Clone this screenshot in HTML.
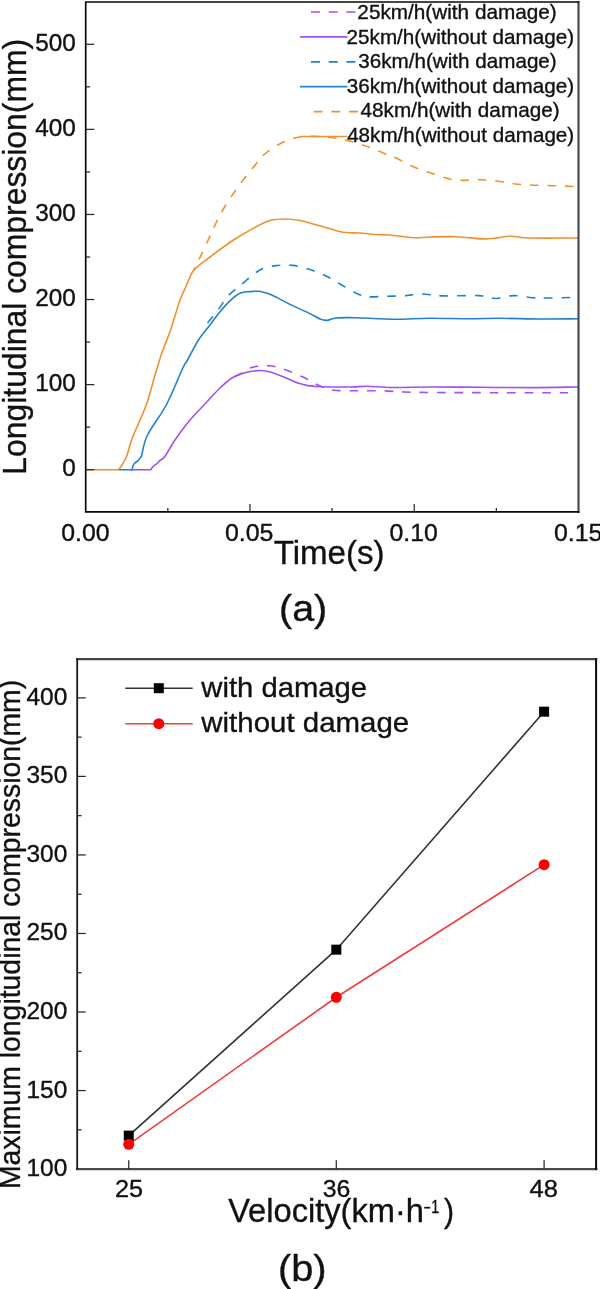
<!DOCTYPE html>
<html><head><meta charset="utf-8"><title>Longitudinal compression</title>
<style>
html,body{margin:0;padding:0;background:#fff;}
body{width:600px;height:1289px;overflow:hidden;font-family:"Liberation Sans",sans-serif;}
svg{display:block;will-change:transform;}
</style></head><body>
<svg width="600" height="1289" viewBox="0 0 600 1289">
<rect width="600" height="1289" fill="#fff"/>
<g id="chart-a">
<path d="M131.00,469.70 L150.80,469.70 L150.80,469.70 C151.22,469.12 152.32,467.24 153.30,466.25 C154.28,465.26 155.58,464.73 156.70,463.75 C157.82,462.77 158.62,461.65 160.00,460.40 C161.38,459.15 162.50,459.65 165.00,456.25 C167.50,452.85 170.83,446.04 175.00,440.00 C179.17,433.96 184.58,426.46 190.00,420.00 C195.42,413.54 202.50,406.58 207.50,401.25 C212.50,395.92 215.92,391.88 220.00,388.00 C224.08,384.12 228.00,380.50 232.00,378.00 C236.00,375.50 239.67,374.23 244.00,373.00 C248.33,371.77 253.67,370.77 258.00,370.60 C262.33,370.43 265.67,370.93 270.00,372.00 C274.33,373.07 279.33,375.17 284.00,377.00 C288.67,378.83 294.00,381.57 298.00,383.00 C302.00,384.43 303.92,384.98 308.00,385.60 C312.08,386.23 315.50,386.52 322.50,386.75 C329.50,386.98 342.50,387.08 350.00,387.00 C357.50,386.92 360.42,386.17 367.50,386.25 C374.58,386.33 382.08,387.38 392.50,387.50 C402.92,387.62 415.42,387.03 430.00,387.00 C444.58,386.97 463.33,387.20 480.00,387.30 C496.67,387.40 513.67,387.65 530.00,387.60 C546.33,387.55 570.00,387.10 578.00,387.00" fill="none" stroke="#A54FF0" stroke-width="1.6" stroke-linejoin="round"/>
<path d="M232.00,378.00 C233.33,377.33 237.00,375.67 240.00,374.00 C243.00,372.33 246.67,369.33 250.00,368.00 C253.33,366.67 256.33,366.33 260.00,366.00 C263.67,365.67 267.67,365.33 272.00,366.00 C276.33,366.67 280.67,368.08 286.00,370.00 C291.33,371.92 298.67,375.00 304.00,377.50 C309.33,380.00 313.25,382.92 318.00,385.00 C322.75,387.08 326.33,389.04 332.50,390.00 C338.67,390.96 347.08,390.62 355.00,390.75 C362.92,390.88 371.67,390.54 380.00,390.75 C388.33,390.96 396.67,391.71 405.00,392.00 C413.33,392.29 414.17,392.38 430.00,392.50 C445.83,392.62 477.00,392.67 500.00,392.70 C523.00,392.73 556.67,392.70 568.00,392.70" fill="none" stroke="#A54FF0" stroke-width="1.6" stroke-linejoin="round" stroke-dasharray="8.6 8.9" stroke-dashoffset="14.6"/>
<path d="M118.00,469.70 L132.10,469.70 L132.10,469.70 C132.28,468.95 132.72,466.33 133.20,465.20 C133.68,464.07 134.15,463.70 135.00,462.90 C135.85,462.10 137.40,461.30 138.30,460.40 C139.20,459.50 139.83,458.40 140.40,457.50 C140.97,456.60 140.52,458.75 141.70,455.00 C142.88,451.25 143.41,443.33 147.50,435.00 C151.59,426.67 160.42,416.04 166.25,405.00 C172.08,393.96 178.96,376.25 182.50,368.75 C186.04,361.25 184.83,364.79 187.50,360.00 C190.17,355.21 194.75,345.83 198.50,340.00 C202.25,334.17 206.42,329.72 210.00,325.00 C213.58,320.28 216.67,315.73 220.00,311.70 C223.33,307.67 226.67,303.87 230.00,300.80 C233.33,297.73 236.67,294.83 240.00,293.30 C243.33,291.77 246.83,291.93 250.00,291.60 C253.17,291.27 256.00,290.97 259.00,291.30 C262.00,291.63 265.17,292.65 268.00,293.60 C270.83,294.55 272.33,295.20 276.00,297.00 C279.67,298.80 284.33,301.63 290.00,304.40 C295.67,307.17 305.00,311.17 310.00,313.60 C315.00,316.03 317.17,317.87 320.00,319.00 C322.83,320.13 324.33,320.57 327.00,320.40 C329.67,320.23 331.33,318.45 336.00,318.00 C340.67,317.55 347.67,317.57 355.00,317.70 C362.33,317.82 372.50,318.49 380.00,318.75 C387.50,319.01 391.67,319.33 400.00,319.25 C408.33,319.17 418.33,318.32 430.00,318.25 C441.67,318.18 458.33,318.79 470.00,318.80 C481.67,318.81 488.33,318.27 500.00,318.30 C511.67,318.33 527.00,318.92 540.00,319.00 C553.00,319.08 571.67,318.83 578.00,318.80" fill="none" stroke="#2082D0" stroke-width="1.6" stroke-linejoin="round"/>
<path d="M203.00,330.00 C203.50,329.17 203.58,328.20 206.00,325.00 C208.42,321.80 213.78,315.67 217.50,310.80 C221.22,305.93 224.27,300.23 228.30,295.80 C232.33,291.37 237.42,287.83 241.70,284.20 C245.98,280.57 250.62,276.53 254.00,274.00 C257.38,271.47 258.33,270.40 262.00,269.00 C265.67,267.60 270.83,266.20 276.00,265.60 C281.17,265.00 287.33,264.73 293.00,265.40 C298.67,266.07 304.50,267.83 310.00,269.60 C315.50,271.37 321.00,273.60 326.00,276.00 C331.00,278.40 335.00,281.17 340.00,284.00 C345.00,286.83 351.42,290.88 356.00,293.00 C360.58,295.12 362.67,296.21 367.50,296.75 C372.33,297.29 378.75,296.42 385.00,296.25 C391.25,296.08 399.17,296.12 405.00,295.75 C410.83,295.38 413.50,293.98 420.00,294.00 C426.50,294.02 434.22,295.63 444.00,295.90 C453.78,296.17 470.03,295.17 478.70,295.60 C487.37,296.03 490.23,298.50 496.00,298.50 C501.77,298.50 507.30,295.73 513.30,295.60 C519.30,295.47 526.22,297.30 532.00,297.70 C537.78,298.10 541.55,298.03 548.00,298.00 C554.45,297.97 566.92,297.58 570.70,297.50" fill="none" stroke="#2082D0" stroke-width="1.6" stroke-linejoin="round" stroke-dasharray="8.6 8.9" stroke-dashoffset="9.0"/>
<path d="M85.70,469.70 L118.40,469.70 L118.40,469.70 C118.73,469.32 119.72,468.32 120.40,467.40 C121.08,466.48 121.73,465.52 122.50,464.20 C123.27,462.88 124.23,461.03 125.00,459.50 C125.77,457.97 125.85,458.67 127.10,455.00 C128.35,451.33 129.31,445.83 132.50,437.50 C135.69,429.17 142.50,415.42 146.25,405.00 C150.00,394.58 152.38,383.75 155.00,375.00 C157.62,366.25 159.50,359.72 162.00,352.50 C164.50,345.28 167.83,337.78 170.00,331.70 C172.17,325.62 173.33,321.28 175.00,316.00 C176.67,310.72 178.05,305.17 180.00,300.00 C181.95,294.83 184.45,289.92 186.70,285.00 C188.95,280.08 189.62,275.17 193.50,270.50 C197.38,265.83 203.08,262.25 210.00,257.00 C216.92,251.75 227.08,244.17 235.00,239.00 C242.92,233.83 251.67,229.08 257.50,226.00 C263.33,222.92 265.42,221.67 270.00,220.50 C274.58,219.33 280.00,219.00 285.00,219.00 C290.00,219.00 295.00,219.58 300.00,220.50 C305.00,221.42 310.00,223.12 315.00,224.50 C320.00,225.88 325.00,227.42 330.00,228.75 C335.00,230.08 340.00,231.79 345.00,232.50 C350.00,233.21 355.00,232.67 360.00,233.00 C365.00,233.33 370.00,234.17 375.00,234.50 C380.00,234.83 383.62,234.47 390.00,235.00 C396.38,235.53 406.63,237.37 413.30,237.70 C419.97,238.03 422.77,237.17 430.00,237.00 C437.23,236.83 447.25,236.37 456.70,236.70 C466.15,237.03 477.82,239.07 486.70,239.00 C495.58,238.93 502.78,236.47 510.00,236.30 C517.22,236.13 518.67,237.72 530.00,238.00 C541.33,238.28 570.00,238.00 578.00,238.00" fill="none" stroke="#F29030" stroke-width="1.6" stroke-linejoin="round"/>
<path d="M193.50,270.50 C194.58,268.33 197.46,262.79 200.00,257.50 C202.54,252.21 206.04,244.58 208.75,238.75 C211.46,232.92 213.54,227.92 216.25,222.50 C218.96,217.08 221.88,211.46 225.00,206.25 C228.12,201.04 231.67,196.04 235.00,191.25 C238.33,186.46 241.46,182.08 245.00,177.50 C248.54,172.92 252.92,167.71 256.25,163.75 C259.58,159.79 261.04,157.08 265.00,153.75 C268.96,150.42 275.00,146.38 280.00,143.75 C285.00,141.12 290.00,139.25 295.00,138.00 C300.00,136.75 305.00,136.42 310.00,136.25 C315.00,136.08 320.00,136.58 325.00,137.00 C330.00,137.42 335.00,137.83 340.00,138.75 C345.00,139.67 350.00,141.04 355.00,142.50 C360.00,143.96 365.00,145.62 370.00,147.50 C375.00,149.38 380.55,151.95 385.00,153.75 C389.45,155.55 391.98,156.14 396.70,158.30 C401.42,160.46 407.75,164.30 413.30,166.70 C418.85,169.10 424.43,170.77 430.00,172.70 C435.57,174.63 441.70,177.03 446.70,178.30 C451.70,179.57 454.45,180.07 460.00,180.30 C465.55,180.53 473.88,179.58 480.00,179.70 C486.12,179.82 491.15,180.33 496.70,181.00 C502.25,181.67 507.75,183.03 513.30,183.70 C518.85,184.37 523.33,184.67 530.00,185.00 C536.67,185.33 545.30,185.42 553.30,185.70 C561.30,185.98 573.88,186.53 578.00,186.70" fill="none" stroke="#F29030" stroke-width="1.6" stroke-linejoin="round" stroke-dasharray="8.6 8.9" stroke-dashoffset="5.1"/>
<path d="M578.5,2.0 V511.95" fill="none" stroke="#4a4a4a" stroke-width="2.2" stroke-linecap="square"/>
<path d="M578.5,2.0 H85.7 V511.95 H578.5" fill="none" stroke="#0a0a0a" stroke-width="1.7" stroke-linecap="square" stroke-linejoin="miter"/>
<path d="M85.7,469.70 h8.6" stroke="#2a2a2a" stroke-width="1.25"/>
<text transform="translate(62.30,476.30) scale(1.0450,1)" font-family="Liberation Sans, sans-serif" stroke="#111" stroke-width="0.35" stroke-linejoin="round" font-size="23.3" fill="#111">0</text>
<path d="M85.7,384.62 h8.6" stroke="#2a2a2a" stroke-width="1.25"/>
<text transform="translate(35.21,391.22) scale(1.0450,1)" font-family="Liberation Sans, sans-serif" stroke="#111" stroke-width="0.35" stroke-linejoin="round" font-size="23.3" fill="#111">100</text>
<path d="M85.7,299.54 h8.6" stroke="#2a2a2a" stroke-width="1.25"/>
<text transform="translate(35.21,306.14) scale(1.0450,1)" font-family="Liberation Sans, sans-serif" stroke="#111" stroke-width="0.35" stroke-linejoin="round" font-size="23.3" fill="#111">200</text>
<path d="M85.7,214.46 h8.6" stroke="#2a2a2a" stroke-width="1.25"/>
<text transform="translate(35.21,221.06) scale(1.0450,1)" font-family="Liberation Sans, sans-serif" stroke="#111" stroke-width="0.35" stroke-linejoin="round" font-size="23.3" fill="#111">300</text>
<path d="M85.7,129.38 h8.6" stroke="#2a2a2a" stroke-width="1.25"/>
<text transform="translate(35.21,135.98) scale(1.0450,1)" font-family="Liberation Sans, sans-serif" stroke="#111" stroke-width="0.35" stroke-linejoin="round" font-size="23.3" fill="#111">400</text>
<path d="M85.7,44.30 h8.6" stroke="#2a2a2a" stroke-width="1.25"/>
<text transform="translate(35.21,50.90) scale(1.0450,1)" font-family="Liberation Sans, sans-serif" stroke="#111" stroke-width="0.35" stroke-linejoin="round" font-size="23.3" fill="#111">500</text>
<path d="M85.7,427.16 h4.4" stroke="#2a2a2a" stroke-width="1.25"/>
<path d="M85.7,342.08 h4.4" stroke="#2a2a2a" stroke-width="1.25"/>
<path d="M85.7,257.00 h4.4" stroke="#2a2a2a" stroke-width="1.25"/>
<path d="M85.7,171.92 h4.4" stroke="#2a2a2a" stroke-width="1.25"/>
<path d="M85.7,86.84 h4.4" stroke="#2a2a2a" stroke-width="1.25"/>
<path d="M167.83,511.95 v-4" stroke="#2a2a2a" stroke-width="1.25"/>
<path d="M249.97,511.95 v-8" stroke="#2a2a2a" stroke-width="1.25"/>
<path d="M332.10,511.95 v-4" stroke="#2a2a2a" stroke-width="1.25"/>
<path d="M414.23,511.95 v-8" stroke="#2a2a2a" stroke-width="1.25"/>
<path d="M496.37,511.95 v-4" stroke="#2a2a2a" stroke-width="1.25"/>
<text transform="translate(61.20,540.90) scale(1.0687,1)" font-family="Liberation Sans, sans-serif" stroke="#111" stroke-width="0.35" stroke-linejoin="round" font-size="23.3" fill="#111">0.00</text>
<text transform="translate(224.90,540.90) scale(1.0701,1)" font-family="Liberation Sans, sans-serif" stroke="#111" stroke-width="0.35" stroke-linejoin="round" font-size="23.3" fill="#111">0.05</text>
<text transform="translate(389.50,540.90) scale(1.0687,1)" font-family="Liberation Sans, sans-serif" stroke="#111" stroke-width="0.35" stroke-linejoin="round" font-size="23.3" fill="#111">0.10</text>
<text transform="translate(553.90,540.90) scale(1.0701,1)" font-family="Liberation Sans, sans-serif" stroke="#111" stroke-width="0.35" stroke-linejoin="round" font-size="23.3" fill="#111">0.15</text>
<text transform="translate(273.76,563.90) scale(1.0016,1)" font-family="Liberation Sans, sans-serif" stroke="#111" stroke-width="0.35" stroke-linejoin="round" font-size="33" fill="#111">Time(s)</text>
<text transform="translate(279.03,620.80) scale(1.0809,1)" font-family="Liberation Sans, sans-serif" stroke="#111" stroke-width="0.35" stroke-linejoin="round" font-size="36.5" fill="#111">(a)</text>
<text transform="translate(26.20,474.63) rotate(-90) scale(0.9660,1)" font-family="Liberation Sans, sans-serif" stroke="#111" stroke-width="0.35" stroke-linejoin="round" font-size="33" fill="#111">Longitudinal compression(mm)</text>
<path d="M311,12.00 h44.6" stroke="#A54FF0" stroke-width="1.7" stroke-dasharray="9 8.7"/>
<text transform="translate(357.36,19.00) scale(1.0478,1)" font-family="Liberation Sans, sans-serif" stroke="#111" stroke-width="0.35" stroke-linejoin="round" font-size="19.8" fill="#111">25km/h(with damage)</text>
<path d="M300.1,36.90 H347.4" stroke="#A54FF0" stroke-width="1.7"/>
<text transform="translate(346.57,43.52) scale(1.0449,1)" font-family="Liberation Sans, sans-serif" stroke="#111" stroke-width="0.35" stroke-linejoin="round" font-size="19.8" fill="#111">25km/h(without damage)</text>
<path d="M311,61.80 h44.6" stroke="#2082D0" stroke-width="1.7" stroke-dasharray="9 8.7"/>
<text transform="translate(358.23,68.04) scale(1.0433,1)" font-family="Liberation Sans, sans-serif" stroke="#111" stroke-width="0.35" stroke-linejoin="round" font-size="19.8" fill="#111">36km/h(with damage)</text>
<path d="M300.1,86.70 H347.4" stroke="#2082D0" stroke-width="1.7"/>
<text transform="translate(346.83,92.56) scale(1.0437,1)" font-family="Liberation Sans, sans-serif" stroke="#111" stroke-width="0.35" stroke-linejoin="round" font-size="19.8" fill="#111">36km/h(without damage)</text>
<path d="M313.6,111.60 h44.6" stroke="#F29030" stroke-width="1.7" stroke-dasharray="9 8.7"/>
<text transform="translate(360.53,117.08) scale(1.0459,1)" font-family="Liberation Sans, sans-serif" stroke="#111" stroke-width="0.35" stroke-linejoin="round" font-size="19.8" fill="#111">48km/h(with damage)</text>
<path d="M300.1,136.50 H347.4" stroke="#F29030" stroke-width="1.7"/>
<text transform="translate(347.14,141.60) scale(1.0422,1)" font-family="Liberation Sans, sans-serif" stroke="#111" stroke-width="0.35" stroke-linejoin="round" font-size="19.8" fill="#111">48km/h(without damage)</text>
</g>
<g id="chart-b">
<path d="M128.75,1135.64 L336.30,949.66 L544.10,711.68" fill="none" stroke="#333" stroke-width="1.6"/>
<path d="M128.75,1144.28 L336.30,997.25 L544.10,864.68" fill="none" stroke="#F03C3C" stroke-width="1.6"/>
<rect x="123.75" y="1130.64" width="10" height="10" fill="#000"/>
<rect x="331.30" y="944.66" width="10" height="10" fill="#000"/>
<rect x="539.10" y="706.68" width="10" height="10" fill="#000"/>
<circle cx="128.75" cy="1144.28" r="5.5" fill="#FF0000"/>
<circle cx="336.30" cy="997.25" r="5.5" fill="#FF0000"/>
<circle cx="544.10" cy="864.68" r="5.5" fill="#FF0000"/>
<path d="M77.2,659.2 H596.1" fill="none" stroke="#454545" stroke-width="2.2" stroke-linecap="square"/>
<path d="M77.2,1169.1 H596.1" fill="none" stroke="#4a4a4a" stroke-width="2.4" stroke-linecap="square"/>
<path d="M77.2,659.2 V1169.1" fill="none" stroke="#1a1a1a" stroke-width="1.8" stroke-linecap="square"/>
<path d="M596.1,659.2 V1169.1" fill="none" stroke="#0a0a0a" stroke-width="2.0" stroke-linecap="square"/>
<text transform="translate(26.52,1176.10) scale(1.0500,1)" font-family="Liberation Sans, sans-serif" stroke="#111" stroke-width="0.35" stroke-linejoin="round" font-size="23.3" fill="#111">100</text>
<path d="M77.2,1090.56 h8.6" stroke="#2a2a2a" stroke-width="1.25"/>
<text transform="translate(26.52,1097.56) scale(1.0500,1)" font-family="Liberation Sans, sans-serif" stroke="#111" stroke-width="0.35" stroke-linejoin="round" font-size="23.3" fill="#111">150</text>
<path d="M77.2,1012.02 h8.6" stroke="#2a2a2a" stroke-width="1.25"/>
<text transform="translate(26.52,1019.02) scale(1.0500,1)" font-family="Liberation Sans, sans-serif" stroke="#111" stroke-width="0.35" stroke-linejoin="round" font-size="23.3" fill="#111">200</text>
<path d="M77.2,933.48 h8.6" stroke="#2a2a2a" stroke-width="1.25"/>
<text transform="translate(26.52,940.48) scale(1.0500,1)" font-family="Liberation Sans, sans-serif" stroke="#111" stroke-width="0.35" stroke-linejoin="round" font-size="23.3" fill="#111">250</text>
<path d="M77.2,854.94 h8.6" stroke="#2a2a2a" stroke-width="1.25"/>
<text transform="translate(26.52,861.94) scale(1.0500,1)" font-family="Liberation Sans, sans-serif" stroke="#111" stroke-width="0.35" stroke-linejoin="round" font-size="23.3" fill="#111">300</text>
<path d="M77.2,776.40 h8.6" stroke="#2a2a2a" stroke-width="1.25"/>
<text transform="translate(26.52,783.40) scale(1.0500,1)" font-family="Liberation Sans, sans-serif" stroke="#111" stroke-width="0.35" stroke-linejoin="round" font-size="23.3" fill="#111">350</text>
<path d="M77.2,697.86 h8.6" stroke="#2a2a2a" stroke-width="1.25"/>
<text transform="translate(26.52,704.86) scale(1.0500,1)" font-family="Liberation Sans, sans-serif" stroke="#111" stroke-width="0.35" stroke-linejoin="round" font-size="23.3" fill="#111">400</text>
<path d="M77.2,1129.83 h4.4" stroke="#2a2a2a" stroke-width="1.25"/>
<path d="M77.2,1051.29 h4.4" stroke="#2a2a2a" stroke-width="1.25"/>
<path d="M77.2,972.75 h4.4" stroke="#2a2a2a" stroke-width="1.25"/>
<path d="M77.2,894.21 h4.4" stroke="#2a2a2a" stroke-width="1.25"/>
<path d="M77.2,815.67 h4.4" stroke="#2a2a2a" stroke-width="1.25"/>
<path d="M77.2,737.13 h4.4" stroke="#2a2a2a" stroke-width="1.25"/>
<path d="M128.75,1169.1 v-8.8" stroke="#2a2a2a" stroke-width="1.25"/>
<text transform="translate(114.99,1197.30) scale(1.0835,1)" font-family="Liberation Sans, sans-serif" stroke="#111" stroke-width="0.35" stroke-linejoin="round" font-size="23.3" fill="#111">25</text>
<path d="M336.3,1169.1 v-8.8" stroke="#2a2a2a" stroke-width="1.25"/>
<text transform="translate(322.77,1197.30) scale(1.0667,1)" font-family="Liberation Sans, sans-serif" stroke="#111" stroke-width="0.35" stroke-linejoin="round" font-size="23.3" fill="#111">36</text>
<path d="M544.1,1169.1 v-8.8" stroke="#2a2a2a" stroke-width="1.25"/>
<text transform="translate(529.43,1197.30) scale(1.0966,1)" font-family="Liberation Sans, sans-serif" stroke="#111" stroke-width="0.35" stroke-linejoin="round" font-size="23.3" fill="#111">48</text>
<text transform="translate(228.14,1221.50) scale(1.0016,1)" font-family="Liberation Sans, sans-serif" stroke="#111" stroke-width="0.35" stroke-linejoin="round" font-size="32.6" fill="#111">Velocity(km·h</text>
<path d="M424.2,1207.7 H430.2" stroke="#111" stroke-width="1.7"/>
<text transform="translate(431.32,1212.60) scale(0.7707,1)" font-family="Liberation Sans, sans-serif" stroke="#111" stroke-width="0.35" stroke-linejoin="round" font-size="18.6" fill="#111">1</text>
<text transform="translate(443.97,1221.50) scale(0.9260,1)" font-family="Liberation Sans, sans-serif" stroke="#111" stroke-width="0.35" stroke-linejoin="round" font-size="32.6" fill="#111">)</text>
<text transform="translate(277.91,1281.10) scale(1.0909,1)" font-family="Liberation Sans, sans-serif" stroke="#111" stroke-width="0.35" stroke-linejoin="round" font-size="36.5" fill="#111">(b)</text>
<text transform="translate(20.20,1189.04) rotate(-90) scale(0.9460,1)" font-family="Liberation Sans, sans-serif" stroke="#111" stroke-width="0.35" stroke-linejoin="round" font-size="30" fill="#111">Maximum longitudinal compression(mm)</text>
<path d="M125.2,688.2 H192.7" stroke="#333" stroke-width="1.6"/>
<rect x="153.8" y="683.2" width="10" height="10" fill="#000"/>
<text transform="translate(201.27,697.40) scale(1.0343,1)" font-family="Liberation Sans, sans-serif" stroke="#111" stroke-width="0.35" stroke-linejoin="round" font-size="28.3" fill="#111">with damage</text>
<path d="M125.2,723.7 H192.7" stroke="#F03C3C" stroke-width="1.6"/>
<circle cx="158.8" cy="723.7" r="5.5" fill="#FF0000"/>
<text transform="translate(201.27,732.40) scale(1.0409,1)" font-family="Liberation Sans, sans-serif" stroke="#111" stroke-width="0.35" stroke-linejoin="round" font-size="28.3" fill="#111">without damage</text>
</g>
</svg>
</body></html>
